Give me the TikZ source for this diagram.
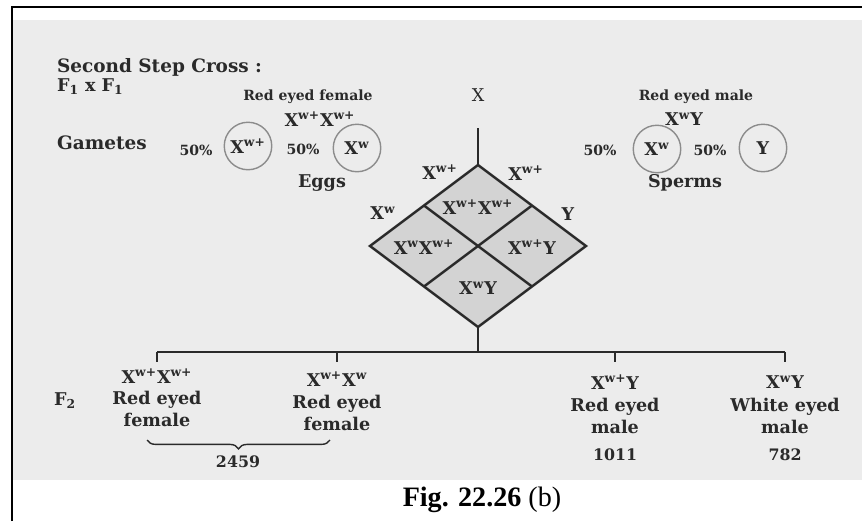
\documentclass[tikz,border=0pt]{standalone}
\usepackage{fontspec}
\setmainfont{DejaVu Serif}
\newfontfamily\capfont{Liberation Serif}
\usetikzlibrary{decorations.pathreplacing}
\definecolor{panel}{HTML}{ECECEC}
\definecolor{cellgray}{HTML}{D3D3D3}
\definecolor{ink}{HTML}{2A2A2A}
\newcommand{\Xr}{X\textsuperscript{w+}}
\newcommand{\Xw}{X\textsuperscript{w}}

\begin{document}
\begin{tikzpicture}[x=0.02cm,y=-0.02cm,
  txt/.style={font=\bfseries\fontsize{10}{12.5}\selectfont,text=ink,inner sep=1pt},
  sml/.style={font=\bfseries\fontsize{8}{9}\selectfont,text=ink,inner sep=1pt},
  gamete/.style={circle,draw=black!45,thick,minimum size=0.95cm,inner sep=0pt,
    font=\bfseries\fontsize{10}{12}\selectfont,text=ink},
  lin/.style={line width=1.4pt,draw=ink}]
\useasboundingbox (0,0) rectangle (862,521);
\fill[white] (0,0) rectangle (862,521);
\fill[panel] (13,20) rectangle (862,480);
\draw[line width=1.2pt] (12,521) -- (12,7) -- (862,7);

\node[txt,anchor=west,font=\bfseries\fontsize{10.5}{12}\selectfont] (ttl) at (55,67) {Second Step Cross :};
\node[txt,anchor=west] (f1) at (55,87) {F\textsubscript{1} x F\textsubscript{1}};
\node[sml] (fem) at (308,97) {Red eyed female};
\node[txt,font=\fontsize{10}{12}\selectfont] (x) at (478,95) {X};
\node[sml] (mal) at (696,97) {Red eyed male};
\node[txt] (pf) at (320,119) {\Xr\Xr};
\node[txt] (pm) at (684,119) {\Xw Y};
\node[txt,anchor=west,font=\bfseries\fontsize{10.5}{12}\selectfont] (gam) at (55,143) {Gametes};
\node[sml] (p1) at (196,150) {50\%};
\node[gamete] (e1) at (248,146) {\Xr};
\node[sml] (p2) at (303,149) {50\%};
\node[gamete] (e2) at (357,148) {\Xw};
\node[txt] (eggs) at (322,183) {Eggs};
\node[sml] (p3) at (600,150) {50\%};
\node[gamete] (s1) at (657,149) {\Xw};
\node[sml] (p4) at (710,150) {50\%};
\node[gamete] (s2) at (763,148) {Y};
\node[txt] (sperm) at (685,183) {Sperms};

\coordinate (top) at (478,128);
\coordinate (t) at (478,165);
\coordinate (l) at (370,246);
\coordinate (b) at (478,327);
\coordinate (r) at (586,246);
\coordinate (tl) at (424,205.5);
\coordinate (tr) at (532,205.5);
\coordinate (bl) at (424,286.5);
\coordinate (br) at (532,286.5);
\fill[cellgray] (t) -- (l) -- (b) -- (r) -- cycle;
\draw[lin] (top) -- (t);
\draw[lin] (t) -- (l) -- (b) -- (r) -- cycle;
\draw[lin] (tl) -- (br);
\draw[lin] (tr) -- (bl);
\node[txt] (d1) at (440,172) {\Xr};
\node[txt] (d2) at (383,213) {\Xw};
\node[txt] (d3) at (526,173) {\Xr};
\node[txt] (d4) at (568,214) {Y};
\node[txt] (c1) at (478,207) {\Xr\Xr};
\node[txt] (c2) at (424,247) {\Xw\Xr};
\node[txt] (c3) at (532,247) {\Xr Y};
\node[txt] (c4) at (478,288) {\Xw Y};

\coordinate (h0) at (478,352);
\coordinate (h1) at (157,352);
\coordinate (h2) at (337,352);
\coordinate (h3) at (615,352);
\coordinate (h4) at (785,352);
\coordinate (k1) at (157,362);
\coordinate (k2) at (337,362);
\coordinate (k3) at (615,362);
\coordinate (k4) at (785,362);
\draw[lin] (b) -- (h0);
\draw[lin] (h1) -- (h4);
\draw[lin] (h1) -- (k1);
\draw[lin] (h2) -- (k2);
\draw[lin] (h3) -- (k3);
\draw[lin] (h4) -- (k4);

\node[txt,anchor=west] (f2) at (52,401) {F\textsubscript{2}};
\node[txt] (o1) at (157,376) {\Xr\Xr};
\node[txt,align=center] (o1a) at (157,409) {Red eyed\\female};
\node[txt] (o2) at (337,379) {\Xr\Xw};
\node[txt,align=center] (o2a) at (337,413) {Red eyed\\female};
\node[txt] (o3) at (615,382) {\Xr Y};
\node[txt,align=center] (o3a) at (615,416) {Red eyed\\male};
\node[sml,font=\bfseries\fontsize{9}{10}\selectfont] (n3) at (615,455) {1011};
\node[txt] (o4) at (785,382) {\Xw Y};
\node[txt,align=center] (o4a) at (785,416) {White eyed\\male};
\node[sml,font=\bfseries\fontsize{9}{10}\selectfont] (n4) at (785,455) {782};

\coordinate (br1) at (147,440);
\coordinate (br2) at (330,440);
\draw[thick,ink,decorate,decoration={brace,amplitude=5pt,mirror}] (br1) -- (br2);
\node[sml,font=\bfseries\fontsize{9}{10}\selectfont] (n12) at (238,462) {2459};

\node[font=\capfont\fontsize{16}{18}\selectfont] (cap) at (482,500) {\textbf{Fig. 22.26} (b)};
\end{tikzpicture}
\end{document}
